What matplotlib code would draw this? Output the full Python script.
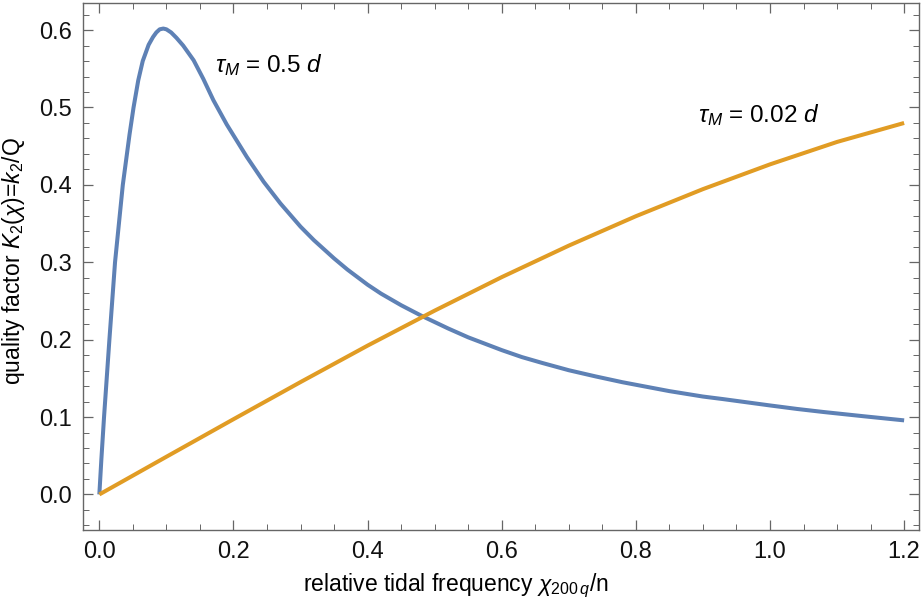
import numpy as np
import matplotlib
matplotlib.use("Agg")
import matplotlib.pyplot as plt
from matplotlib.ticker import MultipleLocator, FormatStrFormatter

plt.rcParams["font.family"] = ["Liberation Sans", "DejaVu Sans"]
plt.rcParams["mathtext.fontset"] = "custom"
plt.rcParams["mathtext.rm"] = "Liberation Sans"
plt.rcParams["mathtext.it"] = "Liberation Sans:italic"
plt.rcParams["mathtext.bf"] = "Liberation Sans:bold"

# tau_M = 0.5 d
chi_slow = [0.0, 0.003, 0.007, 0.015, 0.0234, 0.035, 0.045, 0.051, 0.058, 0.0647,
            0.0735, 0.08, 0.085, 0.09, 0.0954, 0.1, 0.107, 0.115, 0.125, 0.1406,
            0.155, 0.17, 0.19, 0.20, 0.22, 0.245, 0.27, 0.30, 0.32, 0.35, 0.37,
            0.40, 0.42, 0.45, 0.48, 0.52, 0.55, 0.60, 0.63, 0.66, 0.70, 0.74,
            0.78, 0.85, 0.90, 0.93, 1.0, 1.04, 1.08, 1.14, 1.2]
k_slow = [0.0, 0.045, 0.1, 0.2, 0.3, 0.4, 0.465, 0.5, 0.535, 0.56,
          0.581, 0.591, 0.597, 0.601, 0.602, 0.601, 0.597, 0.590, 0.580, 0.561,
          0.537, 0.5095, 0.478, 0.464, 0.436, 0.404, 0.376, 0.346, 0.3285, 0.305, 0.2905,
          0.271, 0.2595, 0.2445, 0.231, 0.2145, 0.203, 0.1865, 0.1775, 0.170, 0.1605, 0.1525,
          0.145, 0.1335, 0.1265, 0.1232, 0.115, 0.1105, 0.1065, 0.101, 0.0957]

# tau_M = 0.02 d
chi_fast = [0.0, 0.1, 0.2, 0.3, 0.4, 0.5, 0.6, 0.7, 0.8, 0.9, 1.0, 1.1, 1.2]
k_fast = [0.0, 0.0487, 0.0972, 0.1452, 0.1923, 0.2375, 0.2808, 0.3215, 0.3595,
          0.3945, 0.4265, 0.4555, 0.480]

BLUE = "#5E81B5"
ORANGE = "#E19C24"
FRAME = "#666666"

fig = plt.figure(figsize=(9.21, 6.03), dpi=100)
ax = fig.add_axes([0.0898, 0.121, 0.9084, 0.874])

ax.plot(chi_slow, k_slow, color=BLUE, lw=2.9, solid_capstyle="butt")
ax.plot(chi_fast, k_fast, color=ORANGE, lw=2.9, solid_capstyle="butt")

ax.text(0.1725, 0.555, r"$\tau_M$ = 0.5 $d$", fontsize=17.5, va="center", ha="left")
ax.text(0.893, 0.490, r"$\tau_M$ = 0.02 $d$", fontsize=17.5, va="center", ha="left")

ax.set_xlim(-0.0248, 1.2227)
ax.set_ylim(-0.046, 0.635)

ax.xaxis.set_major_locator(MultipleLocator(0.2))
ax.xaxis.set_minor_locator(MultipleLocator(0.05))
ax.yaxis.set_major_locator(MultipleLocator(0.1))
ax.yaxis.set_minor_locator(MultipleLocator(0.02))
ax.xaxis.set_major_formatter(FormatStrFormatter("%.1f"))
ax.yaxis.set_major_formatter(FormatStrFormatter("%.1f"))

ax.tick_params(which="both", direction="in", top=True, right=True,
               color=FRAME, labelsize=17, labelcolor="#111111")
ax.tick_params(which="major", length=7, width=0.9, pad=8)
ax.tick_params(which="minor", length=4, width=0.7)
for sp in ax.spines.values():
    sp.set_color(FRAME)
    sp.set_linewidth(1.0)

ax.set_xlabel(r"relative tidal frequency $\chi_{200\,q}$/n", fontsize=16.5)
ax.set_ylabel(r"quality factor $K_2(\chi)$=$k_2$/Q", fontsize=16.5)
# label placement as in the reference (x label sits a bit left of centre)
ax.xaxis.set_label_coords(0.446, -0.105, transform=ax.transAxes)
ax.xaxis.label.set_va("center")
ax.yaxis.set_label_coords(-0.083, 0.51, transform=ax.transAxes)
ax.yaxis.label.set_va("center")

fig.savefig("out.png", dpi=100)
